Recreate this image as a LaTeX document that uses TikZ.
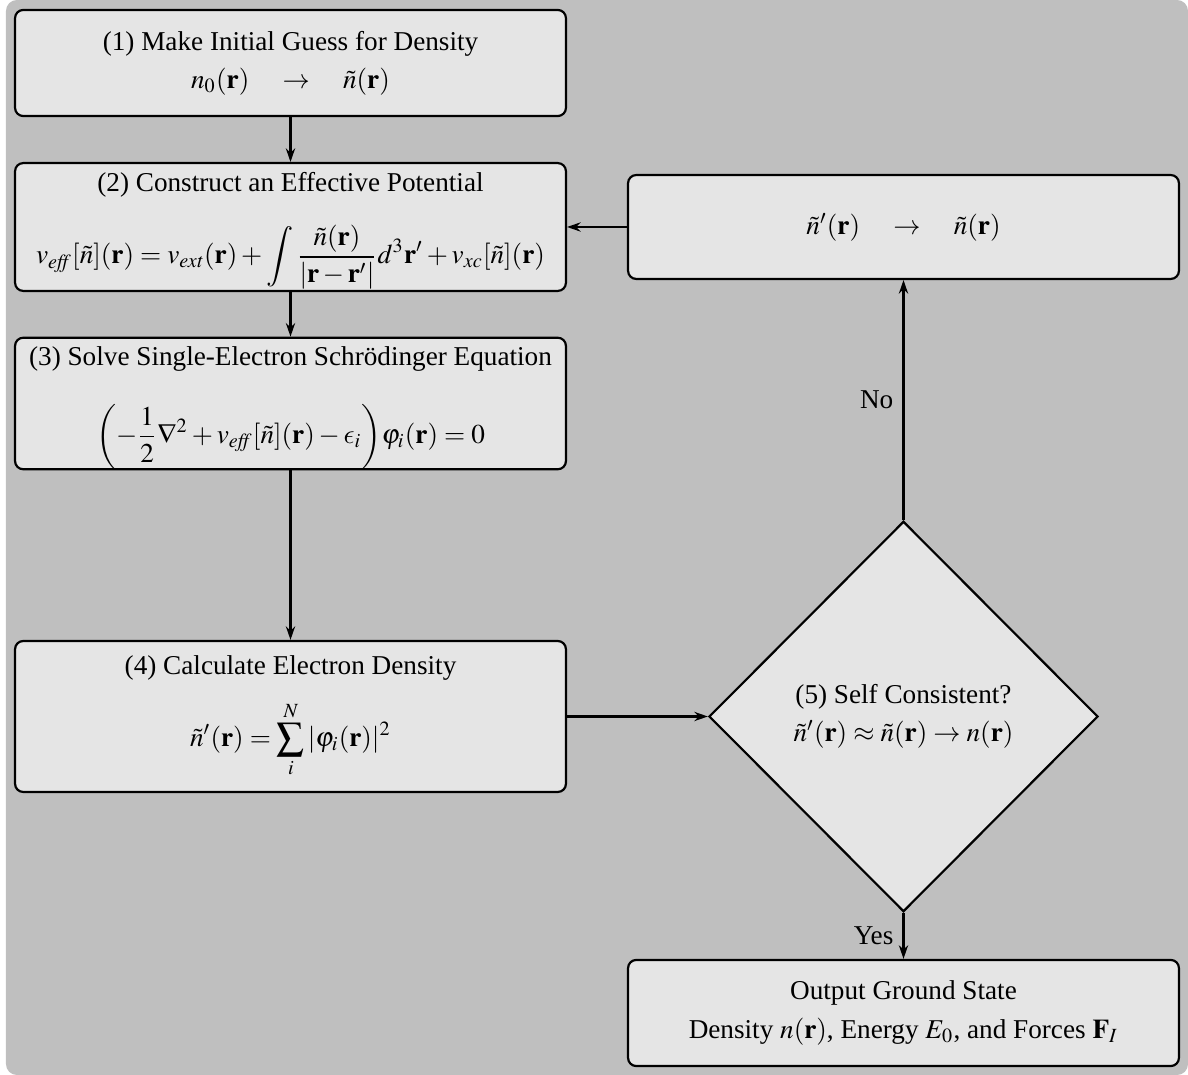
\documentclass[tikz,border=0pt]{standalone}
\usepackage{amsmath}
\usepackage{mathptmx}
\usepackage[no-math]{fontspec}
\setmainfont{Liberation Serif}
\usetikzlibrary{shapes.geometric,arrows.meta}

\DeclareSymbolFont{cmletters}{OML}{cmm}{m}{it}
\DeclareSymbolFont{cmlarge}{OMX}{cmex}{m}{n}
\DeclareMathSymbol{\lunateeps}{\mathord}{cmletters}{"0F}
\DeclareMathSymbol{\bigintop}{\mathop}{cmlarge}{"52}

\colorlet{bggray}{black!25}
\colorlet{boxgray}{black!10}
\newcommand{\rvec}{\mathbf{r}}

\tikzset{
    stagebox/.style={draw=black, thick, fill=boxgray, rounded corners=3pt, minimum width=202.5pt, align=center, inner sep=0pt},
    checkbox/.style={diamond, draw=black, thick, fill=boxgray, minimum width=143pt, minimum height=143.5pt, inner sep=0pt, align=center},
    flow/.style={thick, -{Stealth[length=5pt,width=3.4pt]}},
}

\begin{document}
\begin{tikzpicture}[x=0.3676pt, y=-0.3676pt]
            \useasboundingbox (0,0) rectangle (1188,1075);
            \fill[bggray, rounded corners=4pt] (6,0) rectangle (1188,1075);

            \node[stagebox, minimum height=39pt] (guess) at (290.5,63) {(1) Make Initial Guess for Density\\[2pt] $n_0(\rvec) \quad\rightarrow\quad \tilde{n}(\rvec)$};
            \node[stagebox, minimum height=47pt] (potential) at (290.5,227) {\rule{0pt}{10pt}(2) Construct an Effective Potential\\[9pt] $\displaystyle v_{\mathit{eff}}[\tilde{n}](\rvec) = v_{\mathit{ext}}(\rvec) + \bigintop\nolimits \frac{\tilde{n}(\rvec)}{|\rvec-\rvec'|} d^3\rvec' + v_{\mathit{xc}}[\tilde{n}](\rvec)$};
            \node[stagebox, minimum height=48.2pt] (solve) at (290.5,403.5) {\rule{0pt}{10.2pt}(3) Solve Single-Electron Schrödinger Equation\\[11pt] $\displaystyle \left(-\frac{1}{2}\nabla^2 + v_{\mathit{eff}}[\tilde{n}](\rvec) - \lunateeps_i\right)\!\varphi_i(\rvec) = 0$};
            \node[stagebox, minimum height=55.5pt] (density) at (290.5,716.5) {(4) Calculate Electron Density\\[7pt] $\displaystyle \tilde{n}'(\rvec) = \sum_i^N |\varphi_i(\rvec)|^2$};

            \node[stagebox, minimum height=38.2pt] (update) at (903.5,227) {$\tilde{n}'(\rvec) \quad\rightarrow\quad \tilde{n}(\rvec)$};
            \node[checkbox] (check) at (903.5,716.5) {(5) Self Consistent?\\[2pt] $\tilde{n}'(\rvec) \approx \tilde{n}(\rvec) \rightarrow n(\rvec)$};
            \node[stagebox, minimum height=39pt] (output) at (903.5,1013) {Output Ground State\\[2pt] Density $n(\rvec)$, Energy $E_0$, and Forces $\mathbf{F}_I$};

            \draw[flow] (guess) -- (potential);
            \draw[flow] (potential) -- (solve);
            \draw[flow] (solve) -- (density);
            \draw[flow] (density) -- (check);
            \draw[flow] (check) -- node[left]{No} (update);
            \draw[flow] (update) -- (potential);
            \draw[flow] (check) -- node[left]{Yes} (output);
        \end{tikzpicture}
\end{document}
